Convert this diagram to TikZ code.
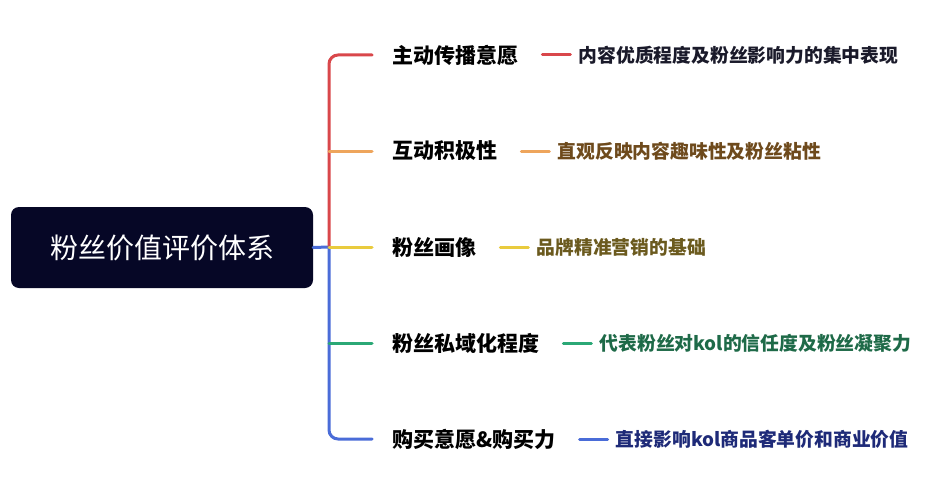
\documentclass[tikz,border=0pt]{standalone}
\usepackage{fontspec}
\setmainfont{Noto Sans CJK SC}
\definecolor{rootbg}{HTML}{060726}
\definecolor{cred}{HTML}{D9474B}
\definecolor{corange}{HTML}{EEA55C}
\definecolor{cyellow}{HTML}{E9CB3E}
\definecolor{cgreen}{HTML}{2BA876}
\definecolor{cblue}{HTML}{4A6CD8}
\definecolor{tdark}{HTML}{1A1A2A}
\definecolor{tbrown}{HTML}{6E4A1C}
\definecolor{tolive}{HTML}{6B5A1E}
\definecolor{tgreen}{HTML}{1E6A48}
\definecolor{tnavy}{HTML}{1E2A78}
\begin{document}
\begin{tikzpicture}[x=1pt,y=-1pt,
  lbl/.style={anchor=west,inner sep=0pt,font=\fontsize{21}{23}\selectfont\bfseries,text=black},
  desc/.style={anchor=west,inner sep=0pt,font=\fontsize{18.8}{21}\selectfont\bfseries},
  conn/.style={line width=3pt,line cap=round,rounded corners=9pt}]
\useasboundingbox[fill=white] (0,0) rectangle (928,500);
\node[fill=rootbg,rounded corners=8pt,minimum width=302pt,minimum height=81pt,inner sep=0pt,
  text=white,font=\fontsize{28}{31}\selectfont] (root) at (162,247.5) {粉丝价值评价体系};
% spine coordinates
\coordinate (s1) at (329,55);
\coordinate (s2) at (329,151);
\coordinate (s3) at (329,247);
\coordinate (s4) at (329,343);
\coordinate (s5) at (329,439);
% labels
\node[lbl] (l1) at (392,55) {主动传播意愿};
\node[lbl] (l2) at (392,151) {互动积极性};
\node[lbl] (l3) at (392,247) {粉丝画像};
\node[lbl] (l4) at (392,343) {粉丝私域化程度};
\node[lbl] (l5) at (392,439) {购买意愿\&购买力};
% descriptions
\node[desc,text=tdark] (d1) at ([xshift=60pt]l1.east) {内容优质程度及粉丝影响力的集中表现};
\node[desc,text=tbrown] (d2) at ([xshift=60pt]l2.east) {直观反映内容趣味性及粉丝粘性};
\node[desc,text=tolive] (d3) at ([xshift=60pt]l3.east) {品牌精准营销的基础};
\node[desc,text=tgreen] (d4) at ([xshift=60pt]l4.east) {代表粉丝对kol的信任度及粉丝凝聚力};
\node[desc,text=tnavy] (d5) at ([xshift=60pt]l5.east) {直接影响kol商品客单价和商业价值};
% spine
\draw[conn,cblue] (root.east) -- (s3);
\draw[conn,cred] ([xshift=-20pt]l1.west) -- (s1) -- (s3);
\draw[conn,cblue] (s3) -- (s5) -- ([xshift=-20pt]l5.west);
\draw[conn,corange] (s2) -- ([xshift=-20pt]l2.west);
\draw[conn,cyellow] (s3) -- ([xshift=-20pt]l3.west);
\draw[conn,cgreen] (s4) -- ([xshift=-20pt]l4.west);
% dashes
\draw[conn,cred] ([xshift=24pt]l1.east) -- ([xshift=-8pt]d1.west);
\draw[conn,corange] ([xshift=24pt]l2.east) -- ([xshift=-8pt]d2.west);
\draw[conn,cyellow] ([xshift=24pt]l3.east) -- ([xshift=-8pt]d3.west);
\draw[conn,cgreen] ([xshift=24pt]l4.east) -- ([xshift=-8pt]d4.west);
\draw[conn,cblue] ([xshift=24pt]l5.east) -- ([xshift=-8pt]d5.west);
\end{tikzpicture}
\end{document}
